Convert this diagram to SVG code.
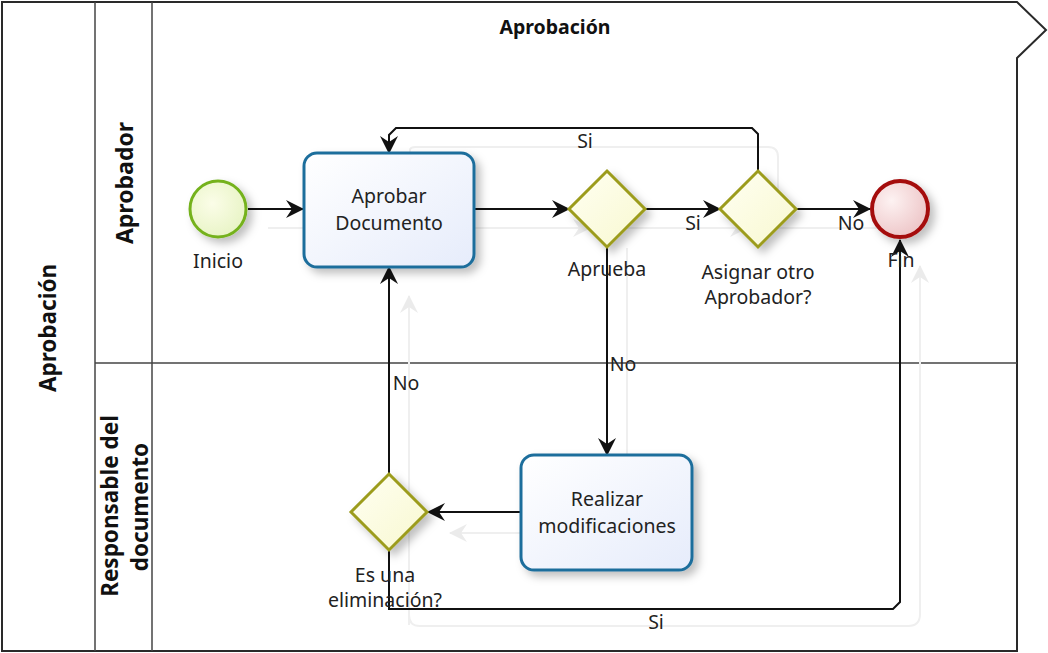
<svg xmlns="http://www.w3.org/2000/svg" width="1048" height="653" viewBox="0 0 1048 653">
  <style>
    text { font-family: "Noto Sans", "Open Sans", "DejaVu Sans", sans-serif; fill: #222; }
    .lbl { font-size: 19.5px; text-anchor: middle; }
    .hdr { font-weight: bold; text-anchor: middle; fill: #111; }
    .pool { fill: #fff; stroke: #2a2a2a; stroke-width: 2; }
    .lane { fill: none; stroke: #444; stroke-width: 1.5; }
    .flow { fill: none; stroke: #111; stroke-width: 2; }
    .ghost { fill: none; stroke: #efefef; stroke-width: 2; }
    .task { fill: url(#taskFill); stroke: #1f6e9c; stroke-width: 3; filter: url(#shadow); }
    .gw { fill: url(#gwFill); stroke: #9c9c1e; stroke-width: 3; filter: url(#shadow); }
  </style>
  <defs>
    <linearGradient id="taskFill" x1="0" y1="0" x2="1" y2="1">
      <stop offset="0" stop-color="#ffffff"/>
      <stop offset="1" stop-color="#e6ecfb"/>
    </linearGradient>
    <linearGradient id="gwFill" x1="0" y1="0" x2="1" y2="1">
      <stop offset="0" stop-color="#fffff2"/>
      <stop offset="1" stop-color="#f8f8d0"/>
    </linearGradient>
    <radialGradient id="startFill" cx="0.4" cy="0.4" r="0.7">
      <stop offset="0" stop-color="#fbfde8"/>
      <stop offset="1" stop-color="#e6f3c2"/>
    </radialGradient>
    <radialGradient id="endFill" cx="0.35" cy="0.35" r="0.75">
      <stop offset="0" stop-color="#fdf2f2"/>
      <stop offset="1" stop-color="#ecc2c4"/>
    </radialGradient>
    <filter id="shadow" x="-30%" y="-30%" width="170%" height="170%">
      <feDropShadow dx="5" dy="5" stdDeviation="4" flood-color="#000" flood-opacity="0.25"/>
    </filter>
    <marker id="arrow" viewBox="0 0 18 18" refX="17" refY="9" markerWidth="18" markerHeight="18" markerUnits="userSpaceOnUse" orient="auto">
      <path d="M0,0 L18,9 L0,18 L6,9 Z" fill="#111"/>
    </marker>
    <marker id="ghostArrow" viewBox="0 0 18 18" refX="17" refY="9" markerWidth="18" markerHeight="18" markerUnits="userSpaceOnUse" orient="auto">
      <path d="M0,0 L18,9 L0,18 L6,9 Z" fill="#ebebeb"/>
    </marker>
  </defs>

  <!-- pool and lanes -->
  <g id="pool">
    <path class="pool" d="M2,2 H1017 L1046,30 L1017,58 V651 H2 Z"/>
    <line class="lane" x1="95" y1="2" x2="95" y2="651"/>
    <line class="lane" x1="152" y1="2" x2="152" y2="651"/>
    <line class="lane" x1="95" y1="363" x2="1017" y2="363"/>
    <text class="hdr" x="555" y="34" font-size="19.5">Aprobación</text>
    <text class="hdr" font-size="22.5" transform="translate(56,328) rotate(-90)">Aprobación</text>
    <text class="hdr" font-size="23" transform="translate(133,183) rotate(-90)">Aprobador</text>
    <text class="hdr" font-size="22.5" transform="translate(118,506) rotate(-90)">Responsable del</text>
    <text class="hdr" font-size="22.5" transform="translate(148,507) rotate(-90)">documento</text>
  </g>

  <!-- faint duplicated flow traces -->
  <g id="connector-traces">
    <path class="ghost" d="M268,228 H590" marker-end="url(#ghostArrow)"/>
    <path class="ghost" d="M627,228 H747" marker-end="url(#ghostArrow)"/>
    <path class="ghost" d="M778,228 H880"/>
    <path class="ghost" d="M410,155 V150 Q410,147 416,147 H768 Q778,147 778,157 V190"/>
    <path class="ghost" d="M627,248 V455"/>
    <path class="ghost" d="M540,533 H450" marker-end="url(#ghostArrow)"/>
    <path class="ghost" d="M409,625 V296" marker-end="url(#ghostArrow)"/>
    <path class="ghost" d="M409,615 Q409,626 420,626 H908 Q920,626 920,614 V266" marker-end="url(#ghostArrow)"/>
  </g>

  <!-- sequence flows -->
  <g id="connectors">
    <path class="flow" d="M248,209 H303" marker-end="url(#arrow)"/>
    <path class="flow" d="M474,209 H569" marker-end="url(#arrow)"/>
    <path class="flow" d="M645,209 H720" marker-end="url(#arrow)"/>
    <path class="flow" d="M797,209 H870" marker-end="url(#arrow)"/>
    <path class="flow" d="M758,171 V134 L752,128 H396 L389,135 V153" marker-end="url(#arrow)"/>
    <path class="flow" d="M607,248 V455" marker-end="url(#arrow)"/>
    <path class="flow" d="M521,512 H428" marker-end="url(#arrow)"/>
    <path class="flow" d="M389,474 V267" marker-end="url(#arrow)"/>
    <path class="flow" d="M389,551 V609 H893 L900,602 V240" marker-end="url(#arrow)"/>
    <text class="lbl" x="585" y="148">Si</text>
    <text class="lbl" x="693" y="230">Si</text>
    <text class="lbl" x="851" y="230">No</text>
    <text class="lbl" x="623" y="371">No</text>
    <text class="lbl" x="406" y="390">No</text>
    <text class="lbl" x="656" y="629">Si</text>
  </g>

  <g id="start-inicio">
    <circle cx="218" cy="209" r="28" fill="url(#startFill)" stroke="#74b21f" stroke-width="3" filter="url(#shadow)"/>
    <text class="lbl" x="218" y="268">Inicio</text>
  </g>

  <g id="task-aprobar-documento">
    <rect class="task" x="304" y="153" width="170" height="114" rx="13"/>
    <text class="lbl" x="389" y="203">Aprobar</text>
    <text class="lbl" x="389" y="230">Documento</text>
  </g>

  <g id="gateway-aprueba">
    <path class="gw" d="M607,171 L645,209 L607,247 L569,209 Z"/>
    <text class="lbl" x="607" y="276">Aprueba</text>
  </g>

  <g id="gateway-asignar">
    <path class="gw" d="M758,171 L796,209 L758,247 L720,209 Z"/>
    <text class="lbl" x="758" y="279">Asignar otro</text>
    <text class="lbl" x="758" y="304">Aprobador?</text>
  </g>

  <g id="end-fin">
    <circle cx="900" cy="209" r="28" fill="url(#endFill)" stroke="#a50d0d" stroke-width="4" filter="url(#shadow)"/>
    <text class="lbl" x="901" y="267">Fin</text>
  </g>

  <g id="task-realizar-modificaciones">
    <rect class="task" x="521" y="455" width="171" height="115" rx="13"/>
    <text class="lbl" x="607" y="506">Realizar</text>
    <text class="lbl" x="607" y="533">modificaciones</text>
  </g>

  <g id="gateway-eliminacion">
    <path class="gw" d="M389,474 L427,512 L389,550 L351,512 Z"/>
    <text class="lbl" x="385" y="582">Es una</text>
    <text class="lbl" x="385" y="607">eliminación?</text>
  </g>
</svg>
